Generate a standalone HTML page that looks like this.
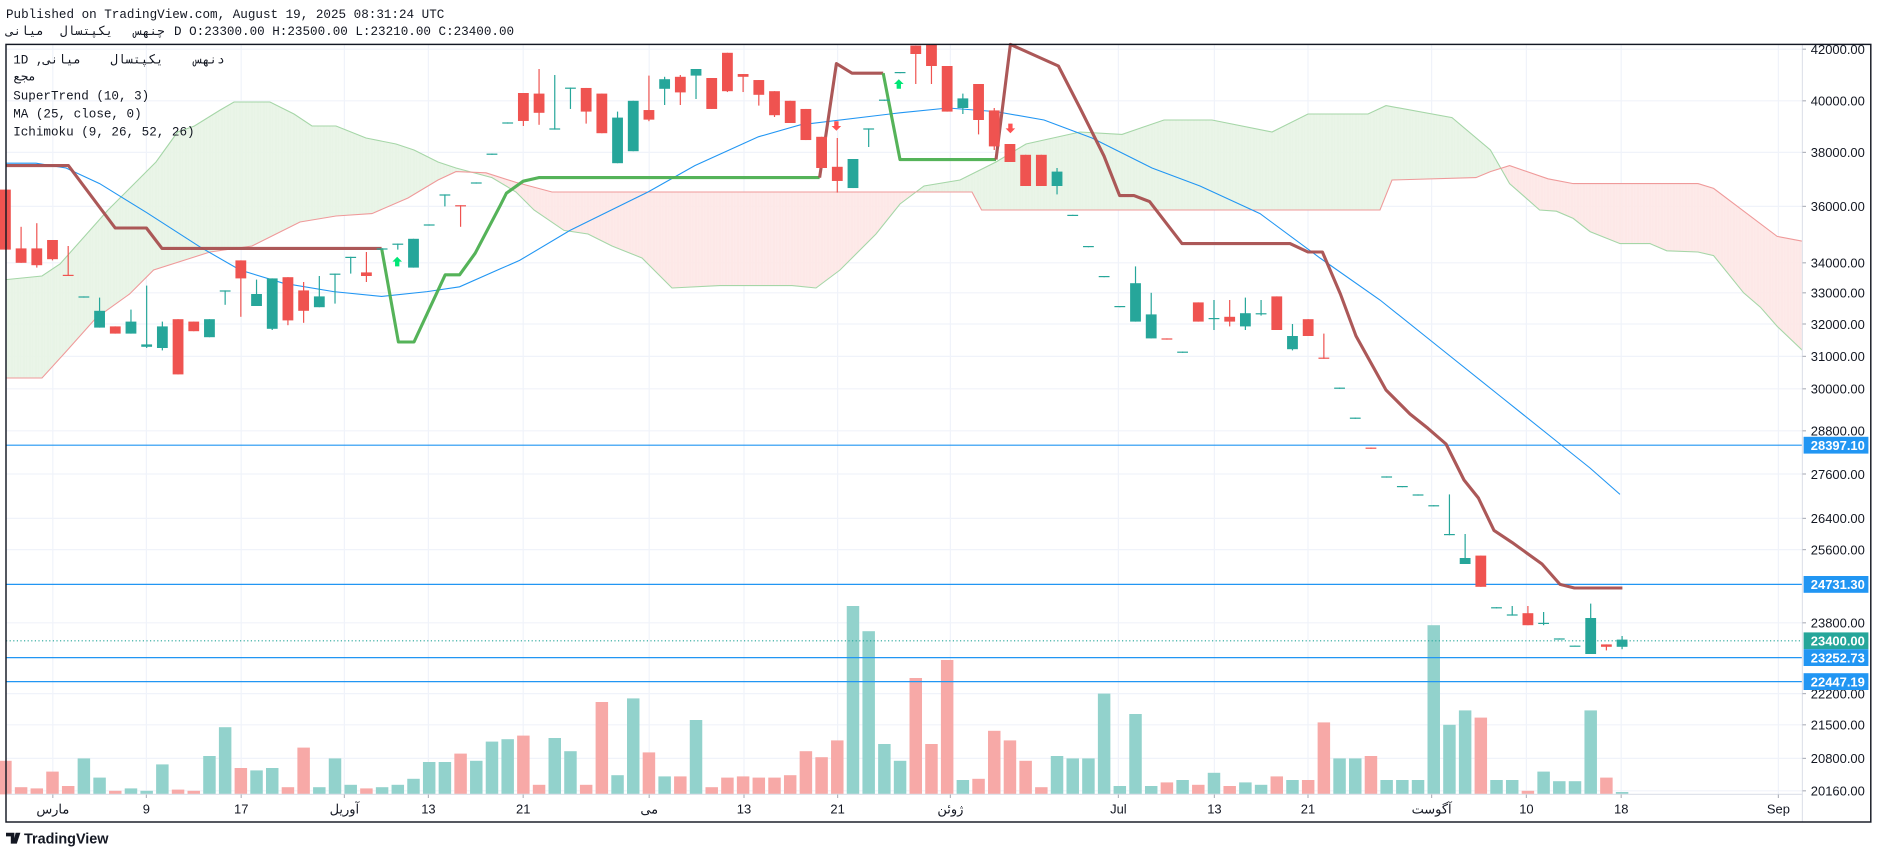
<!DOCTYPE html>
<html><head><meta charset="utf-8"><style>
html,body{margin:0;padding:0;background:#fff;overflow:hidden}
svg{display:block}
</style></head><body>
<svg id="s" width="1878" height="858" viewBox="0 0 1565 715" preserveAspectRatio="none" xmlns="http://www.w3.org/2000/svg" font-family="Liberation Sans, sans-serif">
<rect width="1565" height="715" fill="#fff"/>
<g id="grid"></g>
<g id="cloud"></g>
<g id="vol"></g>
<g id="lines"></g>
<g id="candles"></g>
<g id="axis"></g>
<text x="5" y="15" font-family="Liberation Mono, monospace" font-size="10.5" fill="#131722">Published on TradingView.com, August 19, 2025 08:31:24 UTC</text>
<g font-family="Liberation Mono, 'Noto Sans CJK SC', monospace" font-size="10.5" fill="#131722">
<text x="5" y="29">میانی</text><text x="50" y="29">یکپتسال</text><text x="112" y="29">چنهس</text>
<text x="145" y="29">D O:23300.00 H:23500.00 L:23210.00 C:23400.00</text>
</g>
<g font-family="Liberation Mono, 'Noto Sans CJK SC', monospace" font-size="10.5" fill="#131722">
<text x="11" y="53">1D ,</text><text x="36" y="53">میانی</text><text x="92" y="53">یکپتسال</text><text x="162" y="53">دنهس</text>
<text x="11" y="67">مجع</text>
<text x="11" y="83">SuperTrend (10, 3)</text>
<text x="11" y="98">MA (25, close, 0)</text>
<text x="11" y="113">Ichimoku (9, 26, 52, 26)</text>
</g>
<g transform="translate(5,692)"><path d="M0 2h7v9h-3v-6h-4z M8 2h4l-3 9h-3z M9 2h1" fill="#131722"/><text x="15" y="11" font-size="12" font-weight="bold" fill="#131722">TradingView</text></g>
</svg>
<script>
const NS="http://www.w3.org/2000/svg";
function el(p,t,a,txt){const e=document.createElementNS(NS,t);for(const k in a)e.setAttribute(k,a[k]);if(txt!==undefined)e.textContent=txt;document.getElementById(p).appendChild(e);return e;}
const L=5,R=1502,T=37,B=662,RR=1559,BB=685;
const ticks=[["42000.00",41],["40000.00",84],["38000.00",127],["36000.00",172],["34000.00",219],["33000.00",244],["32000.00",270],["31000.00",297],["30000.00",324],["28800.00",359],["27600.00",395],["26400.00",432],["25600.00",458],["23800.00",519],["22200.00",578],["21500.00",604],["20800.00",632],["20160.00",659]];
const tl=[["مارس",44],["9",122],["17",201],["آوریل",287],["13",357],["21",436],["می",541],["13",620],["21",698],["ژوئن",792],["Jul",932],["13",1012],["21",1090],["آگوست",1193],["10",1272],["18",1351],["Sep",1482]];
ticks.forEach(t=>{el("grid","line",{x1:L,x2:R,y1:t[1],y2:t[1],stroke:"#f0f3fa","stroke-width":1});});
tl.forEach(t=>{el("grid","line",{x1:t[1],x2:t[1],y1:T,y2:B,stroke:"#f0f3fa","stroke-width":1});});
const A=[[5,233],[35,230],[50,220],[90,175],[130,135],[148,110],[162,105],[183,92],[195,85],[225,85],[245,95],[260,105],[280,105],[305,115],[330,120],[345,125],[365,135],[380,140],[410,148],[430,160],[445,175],[470,192],[490,195],[510,205],[535,215],[560,240],[600,238],[660,238],[680,240],[700,225],[730,195],[750,170],[770,155],[800,150],[830,135],[855,120],[900,110],[935,112],[970,100],[1010,100],[1060,110],[1090,95],[1140,95],[1155,88],[1210,98],[1242,125],[1258,153],[1283,175],[1297,176],[1311,182],[1325,193],[1350,203],[1375,203],[1389,209],[1415,210],[1428,213],[1453,244],[1467,256],[1481,272],[1502,292]];
const Bs=[[5,315],[35,315],[55,293],[80,265],[108,245],[128,225],[175,210],[210,205],[230,195],[250,185],[280,180],[310,178],[340,165],[365,150],[380,143],[405,144],[430,152],[460,160],[475,160],[810,160],[818,175],[1150,175],[1160,150],[1230,148],[1242,143],[1258,138],[1290,149],[1311,153],[1415,153],[1428,157],[1481,197],[1502,201]];
function interp(P,x){for(let i=0;i<P.length-1;i++){if(x>=P[i][0]&&x<=P[i+1][0]){const f=(x-P[i][0])/(P[i+1][0]-P[i][0]||1);return P[i][1]+f*(P[i+1][1]-P[i][1]);}}return P[P.length-1][1];}
for(let x=5;x<1502;x+=1){const a0=interp(A,x),b0=interp(Bs,x),a1=interp(A,x+1),b1=interp(Bs,x+1);
 const up=(a0+a1)<(b0+b1);
 el("cloud","polygon",{points:`${x},${a0} ${x+1.05},${a1} ${x+1.05},${b1} ${x},${b0}`,fill:up?"#e8f4e6":"#fde8e7"});}
el("cloud","polyline",{points:A.map(p=>p.join(",")).join(" "),fill:"none",stroke:"#a5d6a7","stroke-width":0.9});
el("cloud","polyline",{points:Bs.map(p=>p.join(",")).join(" "),fill:"none",stroke:"#ef9a9a","stroke-width":0.9});
const X=i=>4.5+13.08*i;
const C=[
[0,'r',158,208,158,208],[1,'r',207,219,189,219],[2,'r',207,221,186,223],[3,'r',200,216,200,217],[4,'r',229,230,205,230],
[5,'g',247,248,247,248],[6,'g',259,273,248,273],[7,'r',272,278,272,278],[8,'g',268,278,258,278],[9,'g',287,289,238,290],
[10,'g',272,290,268,292],[11,'r',266,312,266,312],[12,'r',268,276,268,276],[13,'g',266,281,266,281],[14,'g',242,243,242,254],
[15,'r',217,232,217,264],[16,'g',245,255,233,255],[17,'g',232,274,232,275],[18,'r',231,267,231,271],[19,'r',242,259,235,269],
[20,'g',247,256,230,256],[21,'g',228,229,228,253],[22,'g',214,215,214,228],[23,'r',227,230,210,235],[24,'g',207,208,207,208],
[25,'g',203,204,203,208],[26,'g',199,223,199,223],[27,'g',187,188,187,188],[28,'g',162,163,162,172],[29,'r',171,172,171,189],
[30,'g',152,153,152,153],[31,'g',128,129,128,129],[32,'g',102,103,102,103],[33,'r',77.5,100.8,77.5,105],[34,'r',78,94,57.5,104],
[35,'g',107,108,62.5,108],[36,'g',73,74,73,90.8],[37,'r',73.3,93,73.3,103],[38,'r',78,111,78,111],[39,'g',98,136,93,136],
[40,'g',84,126,84,126],[41,'r',91.7,99.7,63,101],[42,'g',66,74,64,87.5],[43,'r',64,77,62.5,87.5],[44,'g',57.5,63,57.5,82.5],
[45,'r',65,90.8,65,90.8],[46,'r',44,76,44,76.7],[47,'r',61.7,64,61.7,76.7],[48,'r',66.7,79,66.7,88],[49,'r',76,96,76,97.5],
[50,'r',84,102.5,84,102.5],[51,'r',90.8,116.7,90.8,116.7],[52,'r',114,140,114,140],[53,'r',139,150.8,115,160.5],[54,'g',132.5,156.7,132.5,156.7],
[55,'g',107,108,107,122.5],[56,'g',83,84,83,84],[57,'g',60,61,60,61],[58,'r',38,45,38,70],[59,'r',37,55,37,70],
[60,'r',55,93,55,93],[61,'g',82,90,78,95],[62,'r',70,100,70,112],[63,'r',92,122,90,125],[64,'r',120,135,120,135],
[65,'r',129,155,129,155],[66,'r',129,155,129,155],[67,'g',143,155,140,162],[68,'g',179,180,179,180],[69,'g',205,206,205,206],
[70,'g',230,231,230,231],[71,'g',255,256,255,256],[72,'g',236,268,222,268],[73,'g',262,282,244,282],[74,'r',282,283,282,283],
[75,'g',293,294,293,294],[76,'r',252,268,252,268],[77,'g',265,266,250,275],[78,'r',264,268,250,272],[79,'g',261,272,248,275],
[80,'g',261,262,250,263],[81,'r',247,275,247,275],[82,'g',280,291,270,292],[83,'r',266,280,266,280],[84,'r',298,299,278,299],
[85,'g',323,324,323,324],[86,'g',348,349,348,349],[87,'r',373,374,373,374],[88,'g',397,398,397,398],[89,'g',405,406,405,406],
[90,'g',412,413,412,413],[91,'g',421,422,421,422],[92,'g',445,446,412,446],[93,'g',465,470,445,470],[94,'r',463,489,463,489],
[95,'g',506,507,506,507],[96,'g',512,513,505,513],[97,'r',511,521,505,521],[98,'g',519,520,510,521],[99,'g',532,533,532,533],
[100,'g',538,538.6,538,538.6],[101,'g',515,545,503,545],[102,'r',537,539,537,542],[103,'g',533,539,530,541]];
const vol=[634,656,657,643,655,632,648,659,657,659,637,658,659,630,606,640,642,640,656,623,656,632,654,657,656,654,649,635,635,628,634,618,616,613,654,615,626,654,585,646,582,627,647,647,600,656,648,647,648,648,646,626,631,617,505,526,620,634,565,620,550,650,649,609,617,634,656,630,632,632,578,655,595,655,652,650,654,644,655,652,654,647,650,650,602,632,632,630,650,650,650,521,604,592,598,650,650,659,643,651,651,592,648,660];
vol.forEach((v,i)=>{const c=C[i][1]=='g'?"#92d2cc":"#f7a9a7";el("vol","rect",{x:X(i)-5.2,y:v,width:10.4,height:B-v,fill:c});});
[371,487,548,568].forEach(y=>el("lines","line",{x1:L,x2:R,y1:y,y2:y,stroke:"#2196f3","stroke-width":1}));
el("lines","line",{x1:L,x2:R,y1:534,y2:534,stroke:"#26a69a","stroke-width":0.9,"stroke-dasharray":"1,2"});
const MA=[[5,136],[30,136],[55,140],[83,153],[122,177],[167,206],[200,225],[236,236],[278,243],[318,247],[356,243],[383,239],[417,224],[433,217],[475,192],[540,160],[579,138],[632,114],[667,104],[750,94],[790,90],[830,93],[870,100],[910,115],[960,140],[1000,155],[1050,178],[1100,215],[1150,250],[1200,290],[1250,330],[1300,370],[1325,390],[1350,412]];
el("lines","polyline",{points:MA.map(p=>p.join(",")).join(" "),fill:"none",stroke:"#2196f3","stroke-width":0.9});
const red="#a84f4f",grn="#4caf50";
const segs=[[red,[[5,138],[57,138],[96,190],[122,190],[135,207],[318,207]]],
[grn,[[318,207],[332,285],[345,285],[371,229],[383,229],[396,211],[417,171],[422,161],[436,151],[449,148],[683,148]]],
[red,[[683,148],[697,53],[710,61],[736,61]]],
[grn,[[736,61],[750,133],[830,133]]],
[red,[[830,133],[842,37],[882,55],[900,90],[920,130],[933,163],[945,163],[958,168],[985,203],[1075,203],[1090,210],[1102,210],[1117,245],[1130,280],[1155,325],[1175,345],[1190,357],[1205,370],[1220,400],[1232,415],[1245,442],[1260,452],[1285,470],[1300,487],[1312,490],[1352,490]]]];
segs.forEach(s=>el("lines","polyline",{points:s[1].map(p=>p.join(",")).join(" "),fill:"none",stroke:s[0],"stroke-width":2.6,"stroke-linejoin":"round","stroke-opacity":0.95}));
C.forEach(c=>{const x=X(c[0]);const col=c[1]=='g'?"#26a69a":"#ef5350";
 el("candles","line",{x1:x,x2:x,y1:c[4],y2:c[5],stroke:col,"stroke-width":1});
 el("candles","rect",{x:x-4.5,y:c[2],width:9,height:Math.max(1,c[3]-c[2]),fill:col});});
function arrow(x,y,up,col){const p=up?`${x},${y-4} ${x+4},${y} ${x+1.8},${y} ${x+1.8},${y+4} ${x-1.8},${y+4} ${x-1.8},${y} ${x-4},${y}`:`${x},${y+4} ${x+4},${y} ${x+1.8},${y} ${x+1.8},${y-4} ${x-1.8},${y-4} ${x-1.8},${y} ${x-4},${y}`;el("candles","polygon",{points:p,fill:col});}
arrow(331,218,true,"#00e676");arrow(749,70,true,"#00e676");arrow(697,105,false,"#ff5252");arrow(842,107,false,"#ff5252");
el("axis","rect",{x:R,y:T,width:RR-R,height:BB-T,fill:"#fff"});
el("axis","rect",{x:L,y:B,width:R-L,height:BB-B,fill:"#fff"});
el("axis","line",{x1:R,x2:R,y1:T,y2:BB,stroke:"#e0e3eb","stroke-width":1});
el("axis","line",{x1:L,x2:R,y1:B,y2:B,stroke:"#e0e3eb","stroke-width":1});
ticks.forEach(t=>{el("axis","line",{x1:R,x2:R+3,y1:t[1],y2:t[1],stroke:"#b2b5be"});el("axis","text",{x:1509,y:t[1]+4,"font-size":10.8,fill:"#131722"},t[0]);});
tl.forEach(t=>{el("axis","line",{x1:t[1],x2:t[1],y1:B,y2:B+3,stroke:"#b2b5be"});el("axis","text",{x:t[1],y:678,"font-size":10.8,fill:"#131722","text-anchor":"middle","font-family":"Liberation Sans, 'Noto Sans CJK SC', sans-serif"},t[0]);});
[["28397.10",371,"#2196f3"],["24731.30",487,"#2196f3"],["23400.00",534,"#26a69a"],["23252.73",548,"#2196f3"],["22447.19",568,"#2196f3"]].forEach(l=>{
 el("axis","rect",{x:R+1,y:l[1]-7,width:54,height:14,fill:l[2]});
 el("axis","text",{x:1509,y:l[1]+4,"font-size":10.8,fill:"#fff","font-weight":"bold"},l[0]);});
el("axis","rect",{x:L,y:T,width:RR-L,height:BB-T,fill:"none",stroke:"#131722","stroke-width":1.2});
</script>
</body></html>
